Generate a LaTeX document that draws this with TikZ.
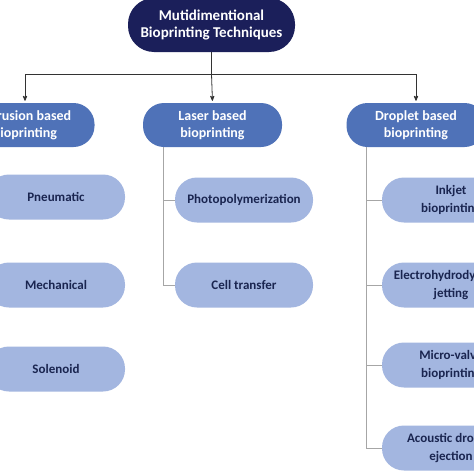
\documentclass[tikz,border=0pt]{standalone}
\usepackage{fontspec}
\setmainfont{Carlito}
\usepackage{tikz}
\usetikzlibrary{arrows}
\usetikzlibrary{calc}

\definecolor{navy}{HTML}{1B1F5A}
\definecolor{midblue}{HTML}{4F72B8}
\definecolor{paleblue}{HTML}{A3B6E0}
\definecolor{inktext}{HTML}{1A2550}

\begin{document}
\begin{tikzpicture}[
    x=1pt, y=-1pt,
    root/.style={rounded corners=26pt, fill=navy, text=white, minimum width=167pt, minimum height=54pt, align=center, font=\fontsize{15}{17}\selectfont\bfseries},
    branch/.style={rounded corners=21pt, fill=midblue, text=white, minimum width=139pt, minimum height=44pt, align=center, font=\fontsize{14}{17}\selectfont\bfseries},
    leaf/.style={rounded corners=22pt, fill=paleblue, text=inktext, minimum width=138pt, minimum height=45pt, align=center, font=\fontsize{13}{18}\selectfont\bfseries},
    arrow line/.style={->, >=stealth', thick, black!80, shorten >=2pt},
    link line/.style={gray!70, thin}
    ]
   \useasboundingbox (0,0) rectangle (474,474);
   \fill[white] (0,0) rectangle (474,474);
   % top node
   \node[root] (tech) at (211.5,25) {Mutidimentional\\Bioprinting Techniques};
   % second level
   \node[branch] (extrusion) at (25,125) {Extrusion based\\bioprinting};
   \node[branch] (laser) at (212.5,125) {Laser based\\bioprinting};
   \node[branch] (droplet) at (416,125) {Droplet based\\bioprinting};
   % leaves
   \node[leaf] (pneumatic) at (56,197) {Pneumatic};
   \node[leaf] (mechanical) at (56,285) {Mechanical};
   \node[leaf] (solenoid) at (56,369) {Solenoid};
   \node[leaf] (photo) at (244,200) {Photopolymerization};
   \node[leaf] (celltr) at (244,285) {Cell transfer};
   \node[leaf] (inkjet) at (451,200) {Inkjet\\bioprinting};
   \node[leaf] (ehd) at (451,285) {Electrohydrodynamic\\jetting};
   \node[leaf] (microvalve) at (451,365) {Micro-valve\\bioprinting};
   \node[leaf] (acoustic) at (451,448) {Acoustic droplet\\ejection};
   % arrows
   \coordinate (split) at (tech.south |- 0,74);
   \draw[thick, black!80] (tech.south) -- (split);
   \draw[arrow line] (split) -| (extrusion.north);
   \draw[arrow line] (split) -- (laser.north);
   \draw[arrow line] (split) -| (droplet.north);
   % branch lines
   \foreach \n in {pneumatic, mechanical, solenoid}
     \draw[link line] ($(extrusion.south west)+(20,0)$) |- (\n.west);
   \foreach \n in {photo, celltr}
     \draw[link line] ($(laser.south west)+(20,0)$) |- (\n.west);
   \foreach \n in {inkjet, ehd, microvalve, acoustic}
     \draw[link line] ($(droplet.south west)+(20,0)$) |- (\n.west);
\end{tikzpicture}
\end{document}
